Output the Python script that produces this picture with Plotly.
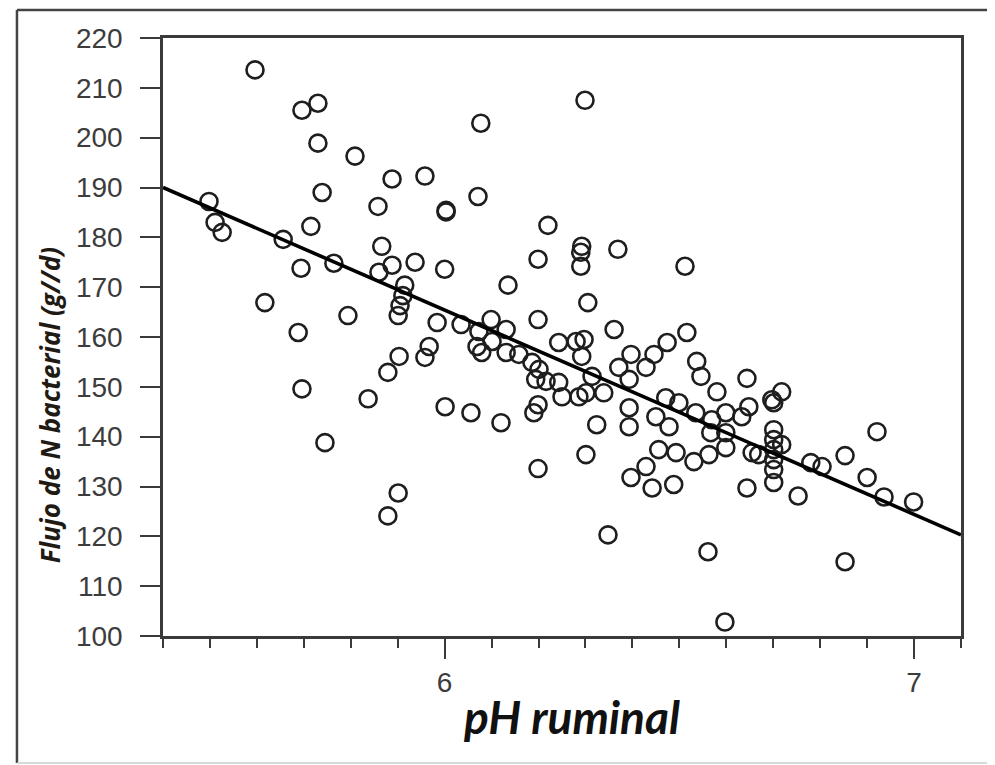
import plotly.graph_objects as go

# pH ruminal values
ph = [5.596, 5.696, 5.730, 5.730, 5.809, 5.888, 5.958, 5.739, 5.858, 5.498,
      5.511, 5.526, 5.715, 5.656, 5.866, 5.694, 5.764, 5.860, 5.888, 5.937,
      6.000, 5.915, 5.911, 5.905, 5.901, 5.617, 5.794, 5.688, 5.984, 6.035,
      6.099, 5.967, 5.958, 5.903, 5.879, 5.696, 5.837, 5.745, 5.901, 5.879,
      6.001, 6.056, 6.120, 6.003, 6.003, 6.071, 6.077, 6.299, 6.220, 6.292,
      6.290, 6.290, 6.369, 6.199, 6.512, 6.135, 6.305, 6.199, 6.361, 6.516,
      6.474, 6.069, 6.079, 6.101, 6.131, 6.131, 6.158, 6.186, 6.201, 6.194,
      6.216, 6.243, 6.250, 6.286, 6.243, 6.280, 6.292, 6.314, 6.301, 6.297,
      6.446, 6.397, 6.537, 6.546, 6.644, 6.580, 6.371, 6.429, 6.393, 6.339,
      6.393, 6.393, 6.450, 6.478, 6.471, 6.499, 6.535, 6.569, 6.599, 6.633,
      6.648, 6.697, 6.324, 6.301, 6.456, 6.493, 6.429, 6.397, 6.442, 6.488,
      6.531, 6.563, 6.599, 6.655, 6.644, 6.599, 6.567, 6.718, 6.701, 6.701,
      6.701, 6.701, 6.701, 6.701, 6.701, 6.718, 6.669, 6.753, 6.780, 6.804,
      6.853, 6.921, 6.900, 6.936, 6.999, 6.561, 6.853, 6.597, 6.348, 6.199,
      6.190, 6.199, 6.073]

# Flujo de N bacterial (g/d)
flujo = [213.6, 205.5, 206.9, 198.9, 196.3, 191.7, 192.3, 189.0, 186.2, 187.2,
         183.0, 181.0, 182.2, 179.6, 178.2, 173.8, 174.8, 173.0, 174.4, 175.0,
         173.6, 170.4, 168.3, 166.3, 164.3, 166.9, 164.3, 160.9, 162.9, 162.5,
         163.5, 158.1, 155.9, 156.1, 152.9, 149.6, 147.6, 138.8, 128.7, 124.1,
         146.0, 144.8, 142.8, 185.4, 185.1, 188.2, 202.9, 207.5, 182.4, 178.2,
         177.0, 174.2, 177.6, 175.6, 174.2, 170.4, 166.9, 163.5, 161.5, 160.9,
         158.9, 158.1, 156.9, 159.1, 161.5, 156.9, 156.5, 154.9, 153.5, 151.5,
         151.1, 150.9, 148.0, 148.0, 158.9, 159.1, 156.1, 152.1, 148.8, 159.5,
         156.5, 156.5, 155.1, 152.1, 151.7, 149.0, 153.9, 153.9, 151.5, 148.8,
         145.8, 142.0, 144.0, 142.0, 147.8, 146.8, 144.8, 143.4, 144.8, 144.0,
         146.0, 147.4, 142.4, 136.4, 137.4, 136.8, 134.0, 131.8, 129.7, 130.4,
         135.0, 136.4, 137.8, 136.8, 129.7, 140.8, 140.8, 149.0, 146.8, 141.4,
         139.4, 137.4, 135.4, 133.4, 130.8, 138.4, 136.4, 128.1, 134.8, 134.0,
         136.2, 141.0, 131.8, 127.9, 126.9, 116.9, 114.9, 102.8, 120.3, 133.6,
         144.8, 146.4, 161.1]

# regression line
fit_intercept = 411.4
fit_slope = -41.0
x_range = [5.4, 7.1]
y_range = [100, 220]

fig = go.Figure()
fig.add_trace(go.Scatter(
    x=ph, y=flujo, mode="markers",
    marker=dict(symbol="circle-open", size=17, color="#1e1e1e",
                line=dict(width=2.6, color="#1e1e1e")),
    showlegend=False, hoverinfo="x+y"))

line_x = x_range
line_y = [fit_intercept + fit_slope * v for v in line_x]
fig.add_trace(go.Scatter(
    x=line_x, y=line_y, mode="lines",
    line=dict(color="#000000", width=3.6),
    showlegend=False))

axis_color = "#3a3a3a"
tick_font = dict(family="Liberation Sans, Arial", size=28, color="#3c3c3c")
fig.update_layout(
    width=987, height=757,
    margin=dict(l=155, r=34, t=30, b=129, pad=0),
    paper_bgcolor="white", plot_bgcolor="white",
    xaxis=dict(range=x_range, tickvals=[6, 7], ticktext=["6", "7"],
               ticks="outside", ticklen=20, tickwidth=2.2, tickcolor=axis_color,
               minor=dict(dtick=0.1, tick0=5.4, ticks="outside", ticklen=9,
                          tickwidth=2.2, tickcolor=axis_color, showgrid=False),
               showline=True, linecolor=axis_color, linewidth=2.6, mirror=True,
               showgrid=False, zeroline=False,
               tickfont=tick_font, ticklabelstandoff=0),
    yaxis=dict(range=y_range, dtick=10, tick0=100,
               ticks="outside", ticklen=20, tickwidth=2.2, tickcolor=axis_color,
               showline=True, linecolor=axis_color, linewidth=2.6, mirror=True,
               showgrid=False, zeroline=False,
               tickfont=tick_font, ticklabelstandoff=12),
    annotations=[
        dict(text="<b><i>pH ruminal</i></b>", xref="paper", yref="paper",
             x=0.5125, y=-0.135, showarrow=False, xanchor="center", yanchor="middle",
             font=dict(family="Lato, Open Sans", size=46, color="#111111")),
        dict(text="<b><i>Flujo de N bacterial (g//d)</i></b>", xref="paper", yref="paper",
             x=-0.1416, y=0.386, showarrow=False, textangle=-90,
             xanchor="center", yanchor="middle",
             font=dict(family="Open Sans, Lato", size=26, color="#1f1a14")),
    ],
    shapes=[
        dict(type="line", xref="paper", yref="paper", x0=-0.183, x1=1.06,
             y0=1.0468, y1=1.0468, line=dict(color="#444444", width=2.5)),
        dict(type="line", xref="paper", yref="paper", x0=-0.183, x1=-0.183,
             y0=1.0468, y1=-0.2124, line=dict(color="#444444", width=2.5)),
        dict(type="line", xref="paper", yref="paper", x0=-0.183, x1=1.06,
             y0=-0.2124, y1=-0.2124, line=dict(color="#cccccc", width=1.5)),
    ],
)

fig.write_html("out.html")
